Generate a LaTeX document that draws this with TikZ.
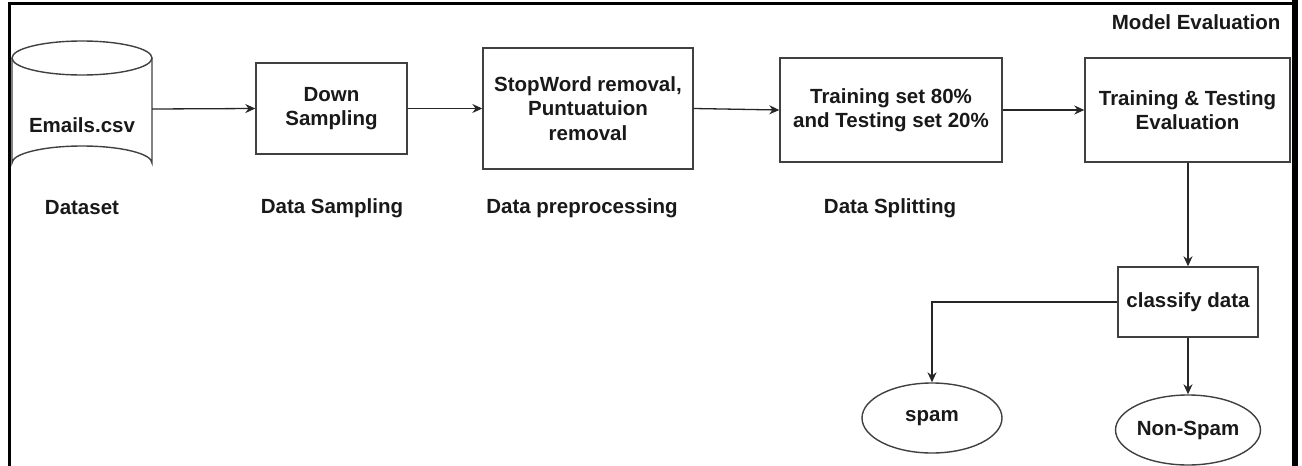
\documentclass[tikz,border=0pt]{standalone}
\usepackage{fontspec}
\setmainfont{Liberation Sans}
\usetikzlibrary{arrows.meta,shapes.geometric}
\begin{document}
\begin{tikzpicture}[x=1pt,y=-1pt,
  every node/.style={font=\fontsize{20.5}{24.5}\selectfont\bfseries, text=black!90, align=center},
  procbox/.style={draw=black!75, line width=1.4pt, inner sep=0pt},
  oval/.style={draw=black!75, line width=1.4pt, ellipse, inner sep=0pt},
  conn/.style={draw=black!85, line width=1.3pt, -{Stealth[length=10pt,width=9pt]}},
  caption/.style={}]
\useasboundingbox (0,0) rectangle (1302,466);
% frame
\draw[line width=3pt] (9,466) -- (9,3) -- (1296,3);
\draw[line width=6pt] (1295,0) -- (1295,466);
% cylinder
\draw[draw=black!75, line width=1.4pt] (12,58) -- (12,163) arc[start angle=180, end angle=360, x radius=70, y radius=17] -- (152,58);
\draw[draw=black!75, line width=1.4pt] (82,58) ellipse[x radius=70, y radius=17];
\node[minimum width=140pt, minimum height=140pt, inner sep=0pt] (cyl) at (82,109) {};
\node (csv) at (82,125) {Emails.csv};
% boxes
\node[procbox, minimum width=151pt, minimum height=91pt] (ds) at (331.5,108.5) {Down\\Sampling};
\node[procbox, minimum width=210pt, minimum height=121pt] (pre) at (588,108.5) {StopWord removal,\\Puntuatuion\\removal};
\node[procbox, minimum width=222pt, minimum height=104pt] (split) at (891,110) {Training set 80\%\\and Testing set 20\%};
\node[procbox, minimum width=205pt, minimum height=104pt] (eval) at (1187.5,110) {Training \& Testing\\Evaluation};
\node[procbox, minimum width=140pt, minimum height=70pt] (cls) at (1188,302) {classify data};
\node[oval, minimum width=140pt, minimum height=70pt] (spam) at (932,418) {spam};
\node[oval, minimum width=140pt, minimum height=70pt] (non) at (1188,430) {Non-Spam};
% captions
\node[caption] (c1) at (82,208) {Dataset};
\node[caption] (c2) at (332,208) {Data Sampling};
\node[caption] (c3) at (582,208) {Data preprocessing};
\node[caption] (c4) at (890,208) {Data Splitting};
\node[caption, anchor=east] (c5) at (1284,22) {Model Evaluation};
% connectors
\draw[conn] (cyl.east) -- (ds.west);
\draw[conn] (ds.east) -- (pre.west);
\draw[conn] (pre.east) -- (split.west);
\draw[conn] (split.east) -- (eval.west);
\draw[conn] (eval.south -| cls.north) -- (cls.north);
\draw[conn] (cls.west) -| (spam.north);
\draw[conn] (cls.south) -- (non.north);
\end{tikzpicture}
\end{document}
